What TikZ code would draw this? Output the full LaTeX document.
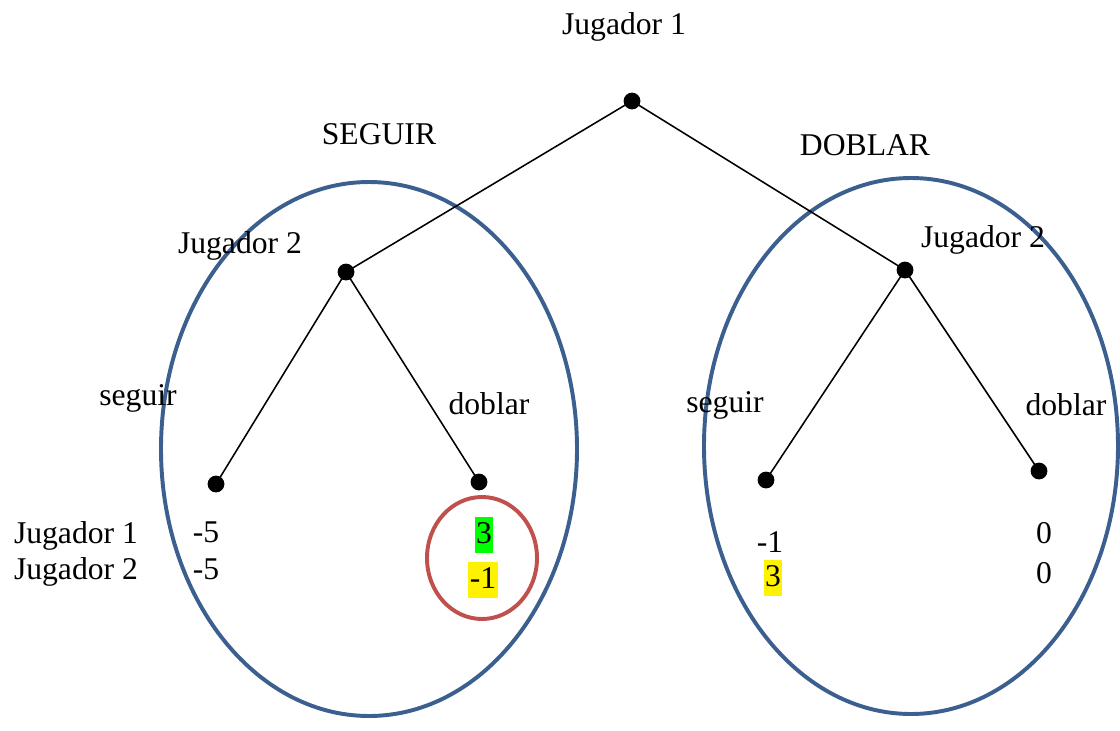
\documentclass[tikz,border=0pt]{standalone}
\usepackage{fontspec}
\setmainfont{Liberation Serif}
\usepackage{xcolor}
\usepackage{tikz}
\definecolor{setblue}{HTML}{3B5F8E}
\definecolor{setred}{HTML}{C0504D}
\begin{document}
\begin{tikzpicture}[x=0.025cm,y=-0.025cm,font=\fontsize{22.5}{27}\selectfont]
    \useasboundingbox (0,0) rectangle (1120,731);
    \tikzset{dot/.style={circle,fill,inner sep=0pt,minimum size=0.42cm},
             lbl/.style={inner sep=0pt},
             mark green/.style={fill=green,inner xsep=1pt,inner ysep=0pt,text height=18.5pt,text depth=7pt},
             mark yellow/.style={fill=yellow,inner xsep=1pt,inner ysep=0pt,text height=18.5pt,text depth=7pt}}

    % conjuntos de informacion
    \draw[setblue,line width=2.8pt] (369,449) ellipse [x radius=208,y radius=267];
    \draw[setblue,line width=2.8pt] (911,446) ellipse [x radius=207,y radius=268];
    \draw[setred,line width=2.8pt] (482,558) ellipse [x radius=55,y radius=61];

    \draw (632,101) node (root) [dot] {};
    \draw (346,272) node (p2a) [dot] {};
    \draw (905,270) node (p2b) [dot] {};
    \draw (216,484) node (leaf1) [dot] {};
    \draw (479,482) node (leaf2) [dot] {};
    \draw (766,480) node (leaf3) [dot] {};
    \draw (1039,471) node (leaf4) [dot] {};

    \draw[line width=1.1pt] (root.center) -- (p2a.center);
    \draw[line width=1.1pt] (root.center) -- (p2b.center);
    \draw[line width=1.1pt] (p2a.center) -- (leaf1.center);
    \draw[line width=1.1pt] (p2a.center) -- (leaf2.center);
    \draw[line width=1.1pt] (p2b.center) -- (leaf3.center);
    \draw[line width=1.1pt] (p2b.center) -- (leaf4.center);

    \draw (624,27) node [lbl] {Jugador 1};
    \draw (379,134) node [lbl] {SEGUIR};
    \draw (865,145) node [lbl] {DOBLAR};
    \draw (240,246) node [lbl] {Jugador 2};
    \draw (983,240) node [lbl] {Jugador 2};
    \draw (138,398) node [lbl] {seguir};
    \draw (489,404) node [lbl] {doblar};
    \draw (725,405) node [lbl] {seguir};
    \draw (1066,405) node [lbl] {doblar};

    % pagos
    \draw (76,536) node [lbl] {Jugador 1};
    \draw (76,572) node [lbl] {Jugador 2};
    \draw (206,532) node [lbl] {-5};
    \draw (206,569) node [lbl] {-5};
    \draw (484,535) node [mark green] {3};
    \draw (483,580) node [mark yellow] {-1};
    \draw (770,542) node [lbl] {-1};
    \draw (773,578) node [mark yellow] {3};
    \draw (1044,533) node [lbl] {0};
    \draw (1044,573) node [lbl] {0};
\end{tikzpicture}
\end{document}
